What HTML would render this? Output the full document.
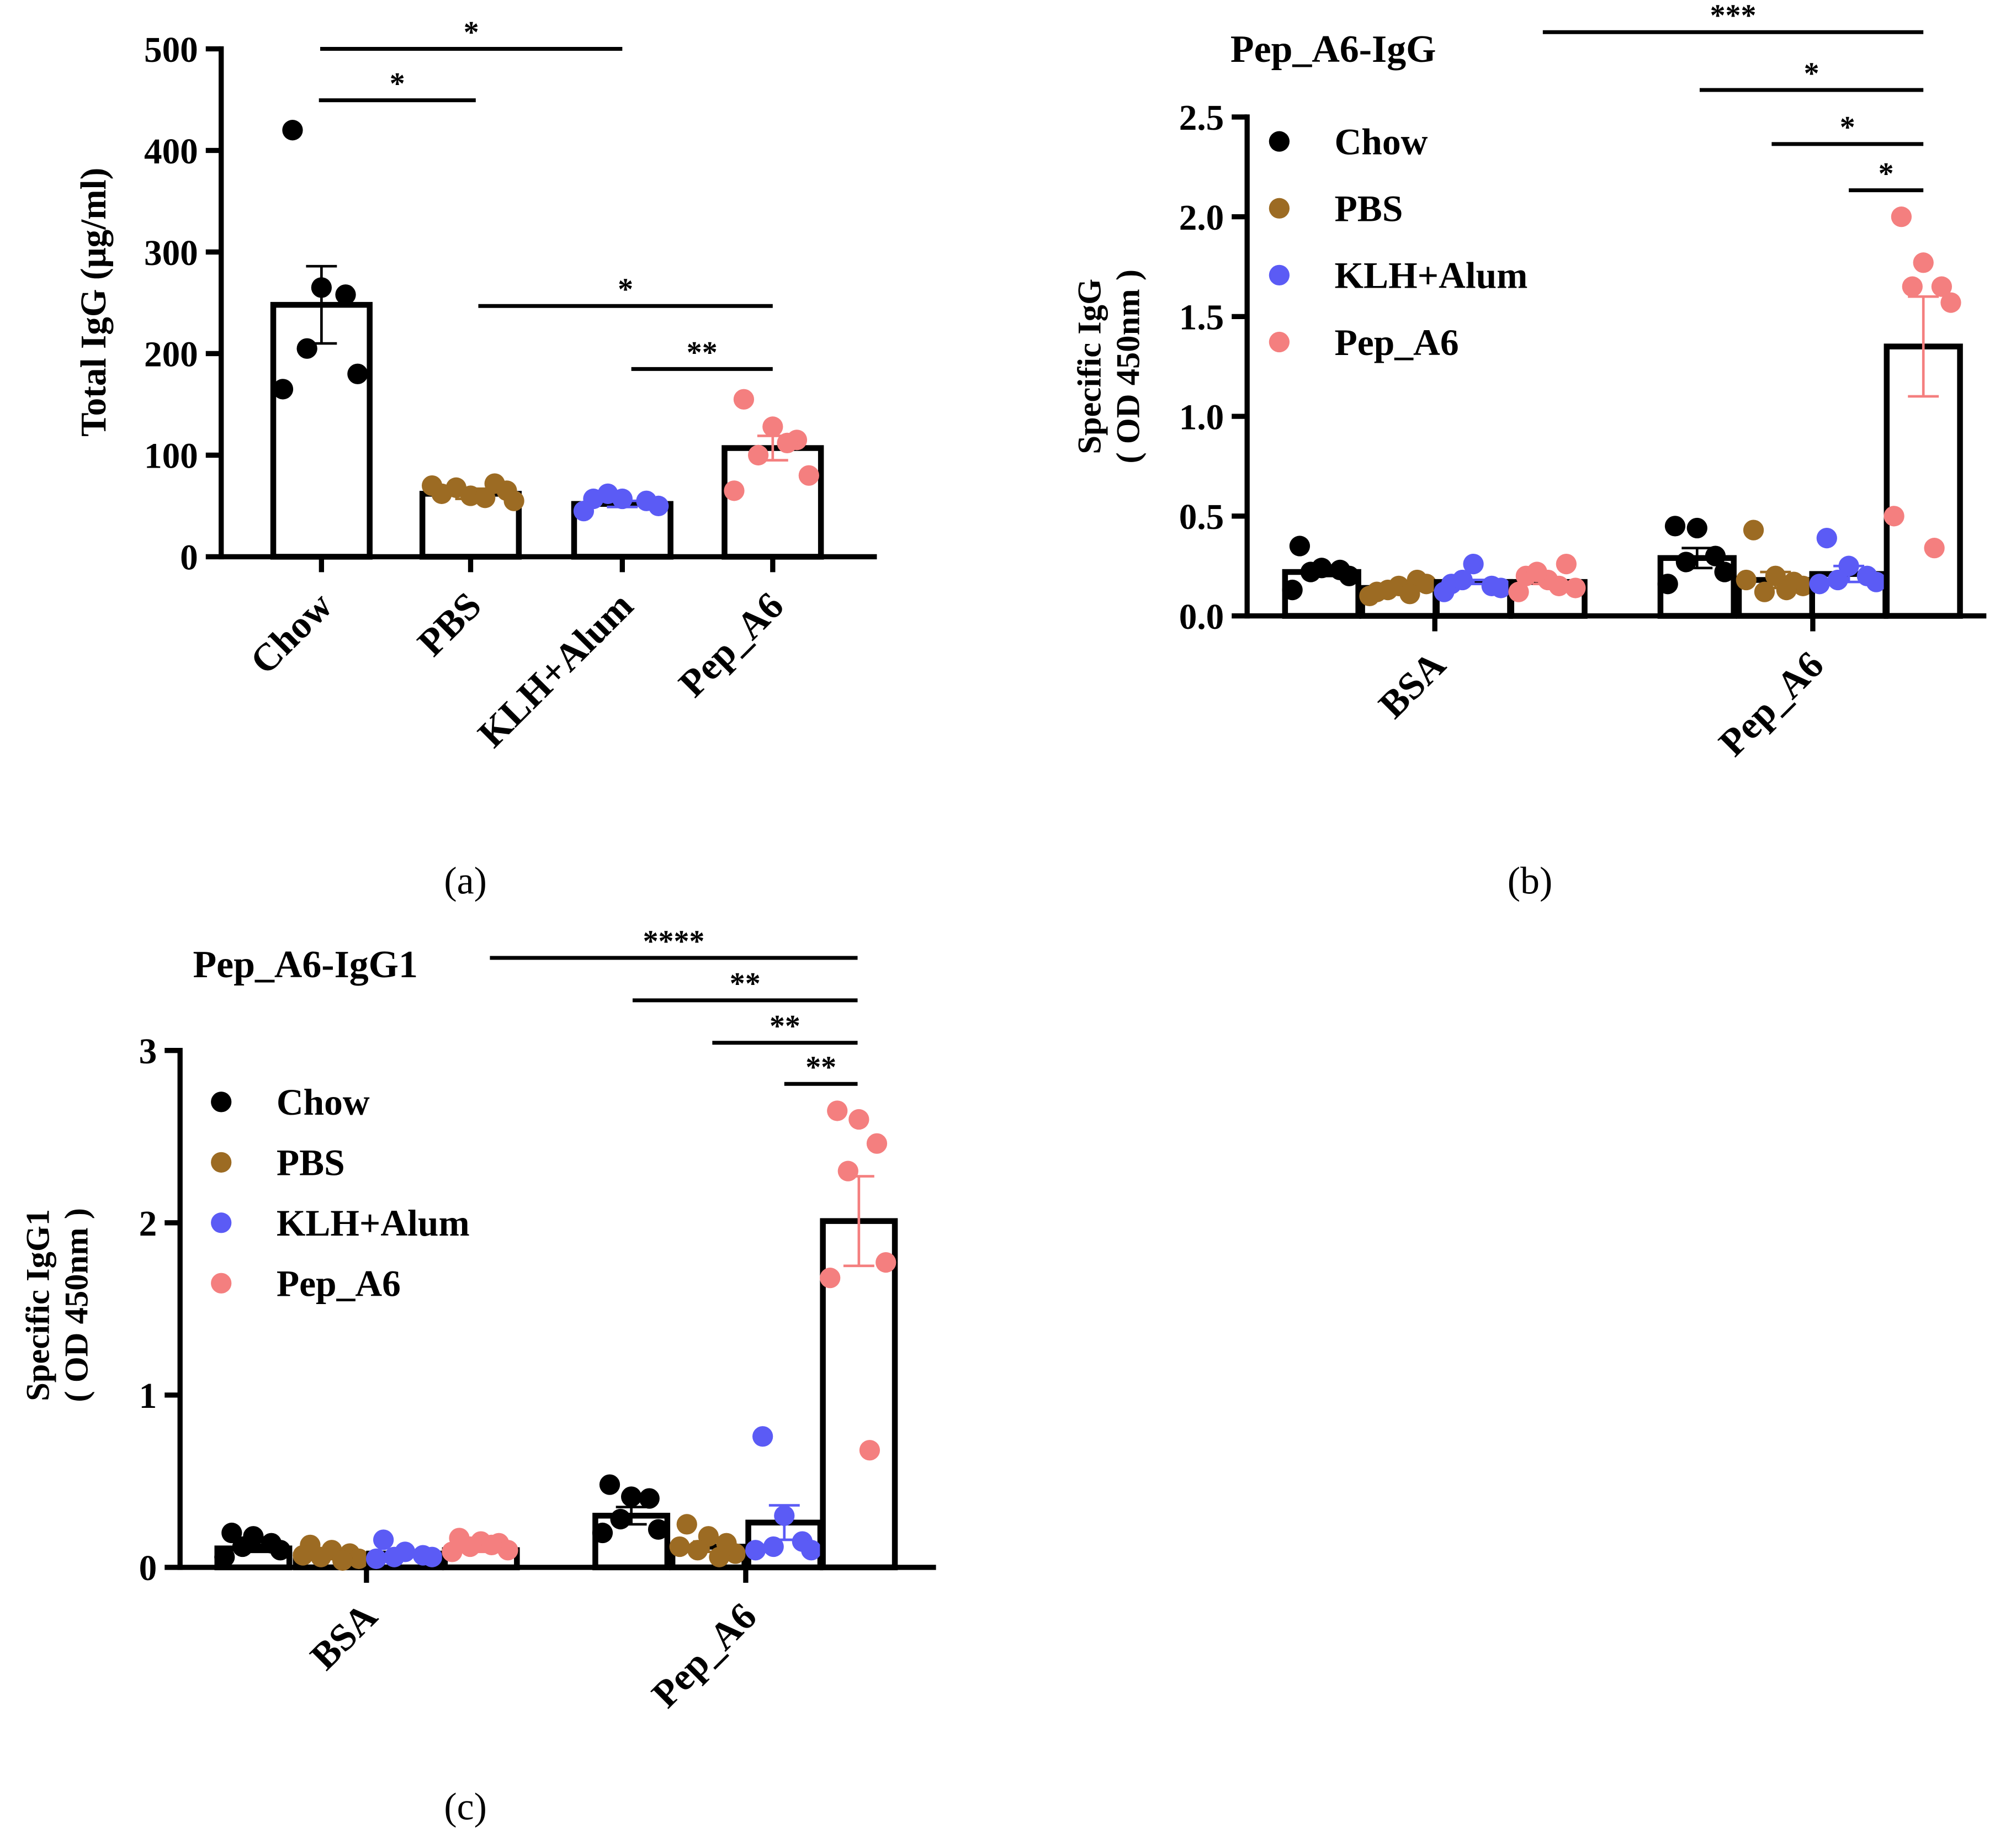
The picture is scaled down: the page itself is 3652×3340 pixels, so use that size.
<!DOCTYPE html>
<html><head><meta charset="utf-8"><style>
html,body{margin:0;padding:0;background:#fff}
svg text{font-family:"Liberation Serif",serif;font-weight:bold;fill:#000}
svg text.cap{font-weight:normal}
</style></head><body>
<svg id="fig" xmlns="http://www.w3.org/2000/svg" width="3652" height="3335" viewBox="0 0 1568 1432"></svg>
<script>
// ---- Panel A data ----
const aCats = ["Chow","PBS","KLH+Alum","Pep_A6"];
const aMeans = [248,62,52,107];
const aSem = [38,5,3,12];
const aPts = [[420,265,258,205,180,165],[62,60,72,68,65,70,58,55],[57,57,55,62,50,45],[155,128,115,100,80,65,112]];
const aTicks = [0,100,200,300,400,500];
// ---- Panel B data ----
const bGroups = ["BSA","Pep_A6"];
const bMeans = [[0.22,0.14,0.17,0.17],[0.29,0.18,0.21,1.35]];
const bSem = [[0.02,0.01,0.01,0.01],[0.05,0.04,0.04,0.25]];
const bPts = [[[0.35,0.24,0.23,0.22,0.2,0.13],[0.12,0.15,0.18,0.13,0.16,0.1,0.11],[0.16,0.26,0.15,0.18,0.14,0.12],[0.2,0.18,0.26,0.22,0.14,0.12,0.15]],[[0.45,0.44,0.3,0.27,0.22,0.16],[0.43,0.2,0.17,0.12,0.15,0.18,0.13],[0.39,0.25,0.2,0.18,0.17,0.16],[2.0,1.77,1.65,1.65,1.57,0.5,0.34]]];
const bTicks = [0,0.5,1.0,1.5,2.0,2.5];
// ---- Panel C data ----
const cMeans = [[0.11,0.07,0.08,0.10],[0.3,0.12,0.26,2.01]];
const cSem = [[0.02,0.01,0.01,0.01],[0.05,0.03,0.1,0.26]];
const cPts = [[[0.2,0.18,0.14,0.12,0.1,0.06],[0.13,0.1,0.08,0.06,0.05,0.07,0.04],[0.16,0.09,0.07,0.06,0.06,0.05],[0.17,0.15,0.14,0.12,0.1,0.09,0.13]],[[0.48,0.41,0.4,0.28,0.22,0.2],[0.25,0.18,0.14,0.1,0.08,0.12,0.06],[0.76,0.3,0.15,0.12,0.1,0.1],[2.65,2.6,2.46,2.3,1.77,1.68,0.68]]];
const cTicks = [0,1,2,3];
const series = ["Chow","PBS","KLH+Alum","Pep_A6"];
const colors = ["#000000","#9c6b23","#5b5bf5","#f47f7f"];

const svg = document.getElementById('fig');
const NS = "http://www.w3.org/2000/svg";
function mk(tag, attrs, name, parent){
  const e = document.createElementNS(NS, tag);
  for (const k in attrs) e.setAttribute(k, attrs[k]);
  
  
  (parent||svg).appendChild(e); return e;
}
function txt(x,y,s,size,name,extra){
  const t = mk('text', Object.assign({x:x,y:y,'font-size':size},extra||{}), name);
  t.textContent = s; return t;
}
function axisY(x0,yBase,yTop,ticks,scale,name,fmt){
  mk('line',{x1:x0,y1:yBase+2,x2:x0,y2:yTop-2,stroke:'#000','stroke-width':4},name+'-y-axis');
  ticks.forEach(v=>{
    const y=scale(v);
    mk('line',{x1:x0-12,y1:y,x2:x0,y2:y,stroke:'#000','stroke-width':4},name+'-y-tick');
    txt(x0-18,y+10,fmt(v),28,name+'-y-tick-label',{'text-anchor':'end'});
  });
}
function bar(cx,w,mean,sem,pts,col,scale,base,name,offs){
  mk('rect',{x:cx-w/2,y:scale(mean),width:w,height:base-scale(mean),fill:'#fff',stroke:'#000','stroke-width':4.5},name);
  const yt=scale(mean+sem), yb=scale(mean-sem);
  mk('line',{x1:cx,y1:yt,x2:cx,y2:yb,stroke:col,'stroke-width':2},name+'-error-bar');
  mk('line',{x1:cx-12,y1:yt,x2:cx+12,y2:yt,stroke:col,'stroke-width':2},name+'-error-cap');
  mk('line',{x1:cx-12,y1:yb,x2:cx+12,y2:yb,stroke:col,'stroke-width':2},name+'-error-cap');
  pts.forEach((v,i)=>{
    const dx = offs[i % offs.length] * w/2;
    mk('circle',{cx:cx+dx,cy:scale(v),r:8,fill:col},name+'-point');
  });
}
function sig(x1,x2,y,s,name){
  mk('line',{x1:x1,y1:y,x2:x2,y2:y,stroke:'#000','stroke-width':3},name);
  txt((x1+x2)/2,y-5,s,24,name+'-stars',{'text-anchor':'middle'});
}
const offs=[-0.6,0.0,0.5,-0.3,0.75,-0.8,0.3,0.9];

// ===== Panel A =====
(function(){
  const base=433, top=38, x0=172;
  const sy=v=>base-(v/500)*(base-top);
  axisY(x0,base,top,aTicks,sy,'panel-a',v=>String(v));
  mk('line',{x1:x0,y1:base,x2:682,y2:base,stroke:'#000','stroke-width':4},'panel-a-x-axis');
  const cx=[250,366,484,601];
  aCats.forEach((c,i)=>{
    bar(cx[i],75,aMeans[i],aSem[i],aPts[i],colors[i],sy,base,'panel-a-bar-'+c.toLowerCase(),offs);
    mk('line',{x1:cx[i],y1:base,x2:cx[i],y2:base+12,stroke:'#000','stroke-width':4},'panel-a-x-tick');
    txt(cx[i]+10,base+40,c,30,'panel-a-x-label',{'text-anchor':'end',transform:`rotate(-45 ${cx[i]+10} ${base+40})`});
  });
  txt(82,235,'Total IgG (μg/ml)',28,'panel-a-y-axis-title',{'text-anchor':'middle',transform:'rotate(-90 82 235)'});
  sig(249,484,38,'*','panel-a-sig-chow-klh');
  sig(248,370,78,'*','panel-a-sig-chow-pbs');
  sig(372,601,238,'*','panel-a-sig-pbs-pep');
  sig(491,601,287,'**','panel-a-sig-klh-pep');
  txt(362,695,'(a)',30,'panel-a-caption',{'text-anchor':'middle','class':'cap',style:'font-weight:normal'});
})();

function grouped(p){
  const sy=v=>p.base-(v/p.max)*(p.base-p.top);
  axisY(p.x0,p.base,p.top,p.ticks,sy,p.name,p.fmt);
  mk('line',{x1:p.x0,y1:p.base,x2:p.xEnd,y2:p.base,stroke:'#000','stroke-width':4},p.name+'-x-axis');
  bGroups.forEach((g,gi)=>{
    series.forEach((s,si)=>{
      bar(p.cx[gi][si],p.w,p.means[gi][si],p.sem[gi][si],p.pts[gi][si],colors[si],sy,p.base,p.name+'-bar-'+g.toLowerCase()+'-'+s.toLowerCase(),offs);
    });
    const tx=p.tick[gi];
    mk('line',{x1:tx,y1:p.base,x2:tx,y2:p.base+12,stroke:'#000','stroke-width':4},p.name+'-x-tick');
    txt(tx+10,p.base+40,g,30,p.name+'-x-label',{'text-anchor':'end',transform:`rotate(-45 ${tx+10} ${p.base+40})`});
  });
  series.forEach((s,i)=>{
    mk('circle',{cx:p.lx,cy:p.ly+i*p.ls,r:8,fill:colors[i]},p.name+'-legend-marker');
    txt(p.lx+43,p.ly+i*p.ls+10,s,29,p.name+'-legend-entry');
  });
  txt(p.title[0],p.title[1],p.titleText,30,p.name+'-title');
  p.sigs.forEach(q=>sig(q[0],q[1],q[2],q[3],p.name+'-sig-bracket'));
  txt(p.yt[0],p.yt[1],p.ytext,26,p.name+'-y-axis-title',{'text-anchor':'middle',transform:`rotate(-90 ${p.yt[0]} ${p.yt[1]})`});
  txt(p.yt[0]+30,p.yt[1],'( OD 450nm )',26,p.name+'-y-axis-subtitle',{'text-anchor':'middle',transform:`rotate(-90 ${p.yt[0]+30} ${p.yt[1]})`});
  txt(p.cap[0],p.cap[1],p.cap[2],30,p.name+'-caption',{'text-anchor':'middle','class':'cap',style:'font-weight:normal'});
}
grouped({name:'panel-b',base:479,top:91,max:2.5,x0:970,xEnd:1545,ticks:bTicks,fmt:v=>v.toFixed(1),
  cx:[[1028,1088,1146,1204],[1320,1381,1438,1496]],w:57,tick:[1116,1410],
  means:bMeans,sem:bSem,pts:bPts,lx:995,ly:110,ls:52,title:[957,48],titleText:'Pep_A6-IgG',
  sigs:[[1200,1496,25,'***'],[1322,1496,70,'*'],[1378,1496,112,'*'],[1438,1496,148,'*']],
  yt:[856,285],ytext:'Specific IgG',cap:[1190,695,'(b)']});
grouped({name:'panel-c',base:1219,top:817,max:3,x0:140,xEnd:728,ticks:cTicks,fmt:v=>String(v),
  cx:[[197,258,315,374],[491,551,610,668]],w:56,tick:[285,580],
  means:cMeans,sem:cSem,pts:cPts,lx:172,ly:857,ls:47,title:[150,760],titleText:'Pep_A6-IgG1',
  sigs:[[381,667,745,'****'],[492,667,778,'**'],[554,667,811,'**'],[610,667,843,'**']],
  yt:[38,1015],ytext:'Specific IgG1',cap:[362,1415,'(c)']});
</script>
</body></html>
